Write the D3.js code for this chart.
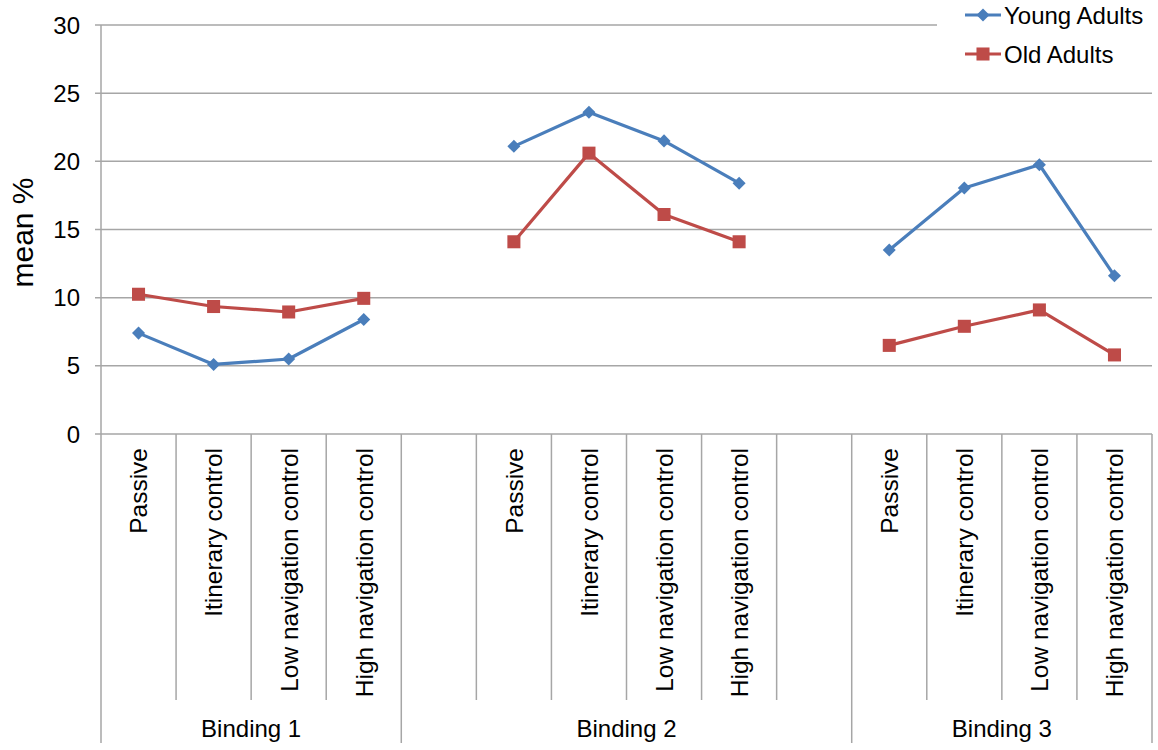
<!DOCTYPE html>
<html>
<head>
<meta charset="utf-8">
<script src="https://cdn.jsdelivr.net/npm/d3@7"></script>
<style>
  body { margin: 0; background: #fff; }
  svg text { font-family: "Liberation Sans", Arial, sans-serif; fill: #000; }
</style>
</head>
<body>
<div id="chart"></div>
<script>
// Chart data
const bindings = ["Binding 1", "Binding 2", "Binding 3"];
const conditions = ["Passive", "Itinerary control", "Low navigation control", "High navigation control"];
// Binding 2 carries an empty slot on each side in the original sheet
const padBefore = [0, 1, 0];
const padAfter = [0, 1, 0];
const youngAdults = [
  [7.4, 5.1, 5.5, 8.4],
  [21.1, 23.6, 21.5, 18.4],
  [13.5, 18.05, 19.75, 11.6]
];
const oldAdults = [
  [10.25, 9.35, 8.95, 9.95],
  [14.1, 20.6, 16.1, 14.1],
  [6.5, 7.9, 9.1, 5.8]
];
const yTicks = [0, 5, 10, 15, 20, 25, 30];
const seriesNames = ["Young Adults", "Old Adults"];

const width = 1158, height = 750;
const margin = { left: 101, right: 6, top: 25, bottom: 316 };
const blue = "#4a7ebb", red = "#be4b48", grid = "#a6a6a6";

const svg = d3.select("#chart").append("svg")
  .attr("width", width)
  .attr("height", height);

// Build the list of category slots (including blank gap slots)
const slots = [];
bindings.forEach((b, gi) => {
  for (let k = 0; k < padBefore[gi]; k++) slots.push({ key: b + "|pre" + k, group: gi, label: "" });
  conditions.forEach((c, ci) => slots.push({ key: b + "|" + c, group: gi, label: c, ci: ci }));
  for (let k = 0; k < padAfter[gi]; k++) slots.push({ key: b + "|post" + k, group: gi, label: "" });
});

const x = d3.scaleBand()
  .domain(slots.map(d => d.key))
  .range([margin.left, width - margin.right])
  .padding(0);

const y = d3.scaleLinear()
  .domain([0, 30])
  .range([height - margin.bottom, margin.top]);

const y0 = y(0);

// Gridlines
svg.append("g")
  .selectAll("line")
  .data(yTicks)
  .join("line")
  .attr("x1", margin.left - 6)
  .attr("x2", width - margin.right)
  .attr("y1", d => y(d))
  .attr("y2", d => y(d))
  .attr("stroke", grid)
  .attr("stroke-width", 1.5);

// Y axis line and labels
svg.append("line")
  .attr("x1", margin.left).attr("x2", margin.left)
  .attr("y1", y(30)).attr("y2", y0)
  .attr("stroke", grid).attr("stroke-width", 1.5);

svg.append("g")
  .selectAll("text")
  .data(yTicks)
  .join("text")
  .attr("x", 80)
  .attr("y", d => y(d))
  .attr("dy", "0.36em")
  .attr("text-anchor", "end")
  .style("font-size", "24px")
  .text(d => d);

svg.append("text")
  .attr("transform", `translate(33, ${(y(30) + y0) / 2 + 3}) rotate(-90)`)
  .attr("text-anchor", "middle")
  .style("font-size", "30px")
  .text("mean %");

// Category separators
const innerBottom = 700, outerBottom = 743;
const bw = x.bandwidth();
const boundaries = [];
slots.forEach((s, i) => {
  const left = x(s.key);
  const isGroupStart = i === 0 || slots[i - 1].group !== s.group;
  boundaries.push({ x: left, full: isGroupStart });
});
boundaries.push({ x: x(slots[slots.length - 1].key) + bw, full: true });

svg.append("g")
  .selectAll("line")
  .data(boundaries)
  .join("line")
  .attr("x1", d => d.x).attr("x2", d => d.x)
  .attr("y1", y0)
  .attr("y2", d => d.full ? outerBottom : innerBottom)
  .attr("stroke", grid)
  .attr("stroke-width", 1.5);

// Condition labels (rotated)
svg.append("g")
  .selectAll("text")
  .data(slots.filter(s => s.label))
  .join("text")
  .attr("transform", d => `translate(${x(d.key) + bw / 2}, 448) rotate(-90)`)
  .attr("dy", "0.36em")
  .attr("text-anchor", "end")
  .style("font-size", "24.5px")
  .text(d => d.label);

// Binding labels
svg.append("g")
  .selectAll("text")
  .data(bindings)
  .join("text")
  .attr("x", (d, gi) => {
    const gs = slots.filter(s => s.group === gi);
    return (x(gs[0].key) + x(gs[gs.length - 1].key) + bw) / 2;
  })
  .attr("y", 728)
  .attr("dy", "0.36em")
  .attr("text-anchor", "middle")
  .style("font-size", "24px")
  .text(d => d);

// Series
const line = d3.line().x(d => d[0]).y(d => d[1]);
const diamond = d3.symbol().type(d3.symbolSquare).size(85);
const square = d3.symbol().type(d3.symbolSquare).size(170);

function drawSeries(values, color, sym, rot) {
  const g = svg.append("g");
  values.forEach((vals, gi) => {
    const pts = vals.map((v, ci) => [x(bindings[gi] + "|" + conditions[ci]) + bw / 2, y(v)]);
    g.append("path")
      .attr("d", line(pts))
      .attr("fill", "none")
      .attr("stroke", color)
      .attr("stroke-width", 3.2)
      .attr("stroke-linejoin", "round");
    g.selectAll(null)
      .data(pts)
      .join("path")
      .attr("transform", d => `translate(${d[0]},${d[1]}) rotate(${rot})`)
      .attr("d", sym)
      .attr("fill", color);
  });
}
drawSeries(oldAdults, red, square, 0);
drawSeries(youngAdults, blue, diamond, 45);

// Legend
const legend = svg.append("g");
legend.append("rect")
  .attr("x", 937).attr("y", 0)
  .attr("width", width - 937).attr("height", 75)
  .attr("fill", "#fff");
const legendItems = [
  { name: seriesNames[0], color: blue, sym: diamond, rot: 45, y: 15 },
  { name: seriesNames[1], color: red, sym: square, rot: 0, y: 54 }
];
legendItems.forEach(it => {
  legend.append("line")
    .attr("x1", 965).attr("x2", 1001)
    .attr("y1", it.y).attr("y2", it.y)
    .attr("stroke", it.color).attr("stroke-width", 3.2);
  legend.append("path")
    .attr("transform", `translate(983,${it.y}) rotate(${it.rot})`)
    .attr("d", it.sym)
    .attr("fill", it.color);
  legend.append("text")
    .attr("x", 1004).attr("y", it.y)
    .attr("dy", "0.36em")
    .style("font-size", "24px")
    .text(it.name);
});
</script>
</body>
</html>
